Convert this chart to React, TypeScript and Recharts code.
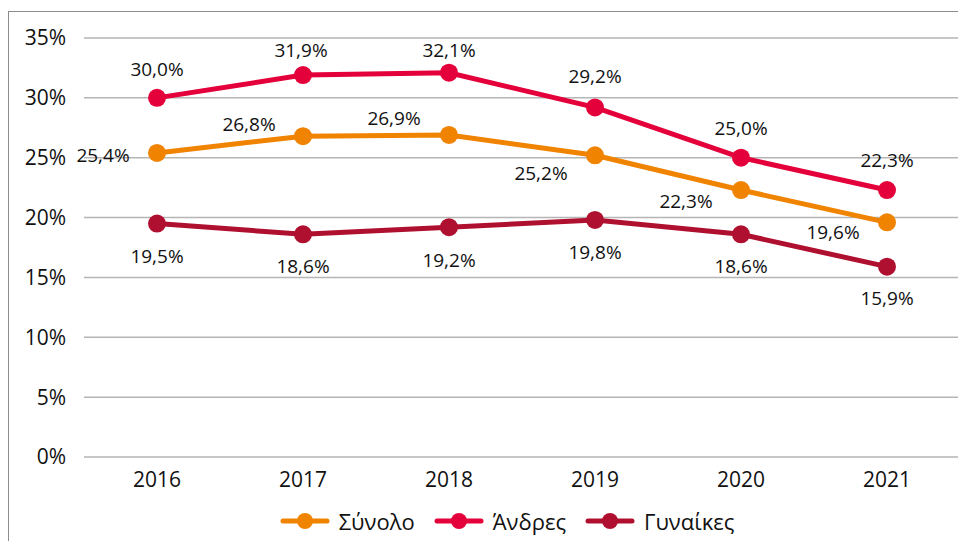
import React from 'react';
import { LineChart, Line, XAxis, YAxis, CartesianGrid, Legend, LabelList } from 'recharts';

const years = ['2016', '2017', '2018', '2019', '2020', '2021'];
const totalValues = [25.4, 26.8, 26.9, 25.2, 22.3, 19.6];
const menValues = [30.0, 31.9, 32.1, 29.2, 25.0, 22.3];
const womenValues = [19.5, 18.6, 19.2, 19.8, 18.6, 15.9];
const yTicks = [0, 5, 10, 15, 20, 25, 30, 35];

const data = years.map((year, i) => ({
  year,
  total: totalValues[i],
  men: menValues[i],
  women: womenValues[i],
}));

const FONT = '"Open Sans", sans-serif';
const COLORS = { total: '#F08300', men: '#E4003A', women: '#B0102F' };

// label offsets (text centre relative to point)
const totalOffsets = [[-54, 2], [-54, -12], [-55, -17], [-54, 18], [-55, 11], [-54, 10]];
const menOffsets = [[0, -29], [-2, -25], [0, -23], [0, -31], [0, -30], [0, -30]];
const womenOffsets = [[0, 32], [0, 32], [0, 33], [0, 32], [0, 32], [0, 31]];

const fmt = (v: number) => v.toFixed(1).replace('.', ',') + '%';

const makeLabel = (offsets: number[][]) => (props: any) => {
  const { x, y, value, index } = props;
  const [dx, dy] = offsets[index];
  return (
    <text
      x={x + dx}
      y={y + dy}
      textAnchor="middle"
      dominantBaseline="central"
      fontSize={19}
      fontFamily={FONT}
      fill="#111"
    >
      {fmt(value)}
    </text>
  );
};

const legendItems = [
  { name: 'Σύνολο', color: COLORS.total },
  { name: 'Άνδρες', color: COLORS.men },
  { name: 'Γυναίκες', color: COLORS.women },
];

const CustomLegend = () => (
  <div
    style={{
      display: 'flex',
      justifyContent: 'center',
      alignItems: 'center',
      height: 24,
      fontFamily: FONT,
      fontSize: 22,
      color: '#111',
      paddingLeft: 64,
    }}
  >
    {legendItems.map((item) => (
      <div key={item.name} style={{ display: 'flex', alignItems: 'center', marginRight: 19 }}>
        <svg width={50} height={20} style={{ marginRight: 9 }}>
          <line x1={3} y1={10} x2={47} y2={10} stroke={item.color} strokeWidth={5} strokeLinecap="round" />
          <circle cx={25} cy={10} r={8} fill={item.color} />
        </svg>
        <span>{item.name}</span>
      </div>
    ))}
  </div>
);

export default function App() {
  return (
    <div
      style={{
        width: 957,
        height: 529,
        marginTop: 3,
        borderTop: '1px solid #8c8c8c',
        borderLeft: '1px solid #8c8c8c',
      }}
    >
      <LineChart width={957} height={529} data={data} margin={{ top: 26, right: 6, bottom: 30, left: 0 }}>
        <CartesianGrid vertical={false} stroke="#b5b5b5" strokeWidth={1.5} />
        <XAxis
          dataKey="year"
          axisLine={false}
          tickLine={false}
          padding={{ left: 73, right: 73 }}
          tickMargin={9}
          height={30}
          tick={{ fontSize: 21, fontFamily: FONT, fill: '#111' }}
        />
        <YAxis
          domain={[0, 35]}
          ticks={yTicks}
          width={75}
          axisLine={false}
          tickLine={false}
          tickMargin={12}
          tickFormatter={(v) => `${v}%`}
          tick={{ fontSize: 21, fontFamily: FONT, fill: '#111' }}
        />
        <Legend verticalAlign="bottom" content={<CustomLegend />} wrapperStyle={{ bottom: 8 }} />
        <Line
          dataKey="total"
          name="Σύνολο"
          stroke={COLORS.total}
          strokeWidth={5}
          dot={{ r: 9, fill: COLORS.total, stroke: 'none' }}
          isAnimationActive={false}
        >
          <LabelList dataKey="total" content={makeLabel(totalOffsets)} />
        </Line>
        <Line
          dataKey="men"
          name="Άνδρες"
          stroke={COLORS.men}
          strokeWidth={5}
          dot={{ r: 9, fill: COLORS.men, stroke: 'none' }}
          isAnimationActive={false}
        >
          <LabelList dataKey="men" content={makeLabel(menOffsets)} />
        </Line>
        <Line
          dataKey="women"
          name="Γυναίκες"
          stroke={COLORS.women}
          strokeWidth={5}
          dot={{ r: 9, fill: COLORS.women, stroke: 'none' }}
          isAnimationActive={false}
        >
          <LabelList dataKey="women" content={makeLabel(womenOffsets)} />
        </Line>
      </LineChart>
    </div>
  );
}
